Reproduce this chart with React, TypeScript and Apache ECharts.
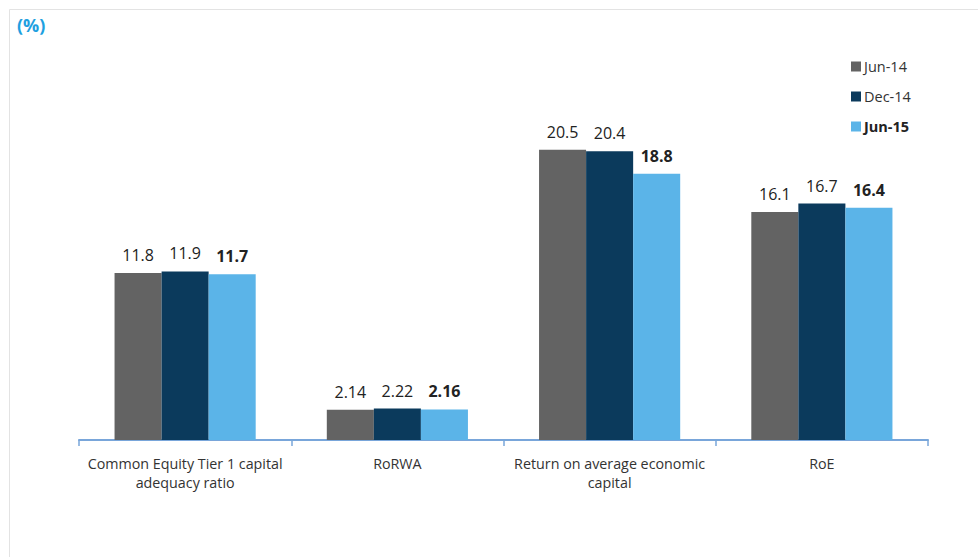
import React, { useEffect, useRef } from "react";
import * as echarts from "echarts";

const categories = [
  "Common Equity Tier 1 capital\nadequacy ratio",
  "RoRWA",
  "Return on average economic\ncapital",
  "RoE",
];
const seriesNames = ["Jun-14", "Dec-14", "Jun-15"];
const jun14 = [11.8, 2.14, 20.5, 16.1];
const dec14 = [11.9, 2.22, 20.4, 16.7];
const jun15 = [11.7, 2.16, 18.8, 16.4];
const colors = ["#636363", "#0b3a5c", "#5bb4e8"];
const labelTexts = [
  ["11.8", "2.14", "20.5", "16.1"],
  ["11.9", "2.22", "20.4", "16.7"],
  ["11.7", "2.16", "18.8", "16.4"],
];

export default function App() {
  const ref = useRef<HTMLDivElement>(null);
  useEffect(() => {
    if (!ref.current) return;
    const chart = echarts.init(ref.current, undefined, { renderer: "svg" });
    const data = [jun14, dec14, jun15];
    const font = "'Open Sans', 'Noto Sans', sans-serif";
    chart.setOption({
      animation: false,
      textStyle: { fontFamily: font },
      graphic: [
        {
          type: "rect",
          shape: { x: 9.5, y: 9.5, width: 1000, height: 1000 },
          style: { fill: "none", stroke: "#e3e3e3", lineWidth: 1 },
          silent: true,
        },
        {
          type: "text",
          left: 17,
          top: 16,
          style: {
            text: "(%)",
            fill: "#1ea0e0",
            font: `bold 18px ${font}`,
          },
        },
      ],
      legend: {
        orient: "vertical",
        left: 846,
        top: 54,
        itemWidth: 10,
        itemHeight: 10,
        itemGap: 15,
        icon: "rect",
        data: seriesNames,
        formatter: (name: string) => (name === "Jun-15" ? `{b|${name}}` : name),
        textStyle: {
          fontSize: 14.5,
          color: "#333",
          padding: [0, 0, 0, -2],
          rich: { b: { fontSize: 14.5, fontWeight: "bold", color: "#222" } },
        },
      },
      grid: { left: 79, right: 50, top: 86, bottom: 117, containLabel: false },
      xAxis: {
        type: "category",
        data: categories,
        axisLine: { show: true, lineStyle: { color: "#79a6da", width: 2 } },
        axisTick: { show: true, length: 6, lineStyle: { color: "#79a6da", width: 1.5 } },
        axisLabel: {
          fontSize: 14.3,
          color: "#333",
          margin: 14,
          lineHeight: 19,
          interval: 0,
        },
      },
      yAxis: {
        type: "value",
        min: 0,
        max: 25,
        show: false,
        splitLine: { show: false },
      },
      series: seriesNames.map((name, i) => ({
        name,
        type: "bar",
        data: data[i],
        barGap: "0%",
        barCategoryGap: "33.5%",
        itemStyle: { color: colors[i] },
        label: {
          show: true,
          position: "top",
          distance: 10,
          fontSize: 16,
          color: "#222",
          fontWeight: i === 2 ? "bold" : "normal",
          formatter: (p: any) => labelTexts[i][p.dataIndex],
        },
      })),
    });
    return () => chart.dispose();
  }, []);
  return (
    <div
      ref={ref}
      style={{ position: "absolute", left: 0, top: 0, width: 978, height: 557, background: "#fff" }}
    />
  );
}
